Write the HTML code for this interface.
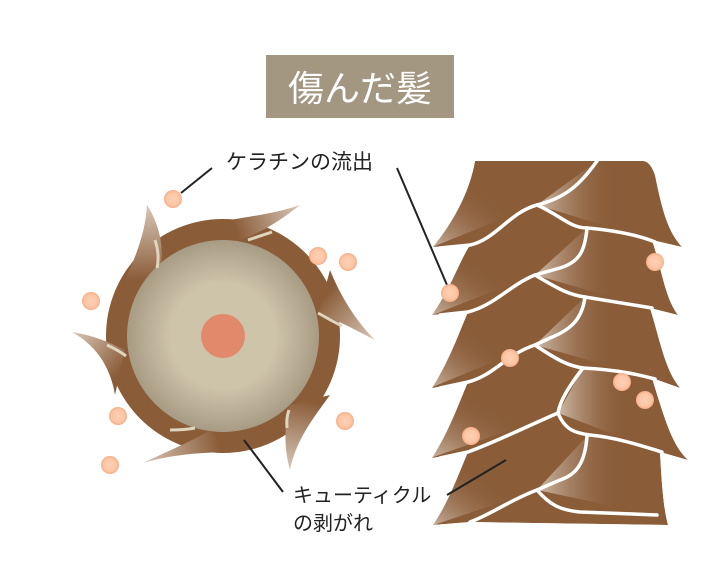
<!DOCTYPE html>
<html><head><meta charset="utf-8"><style>
html,body{margin:0;padding:0;background:#fff;}
svg{display:block;}
text{font-family:"Liberation Sans","Noto Sans CJK JP",sans-serif;}
</style></head><body>
<svg width="720" height="578" viewBox="0 0 720 578" xmlns="http://www.w3.org/2000/svg">
<defs>
<radialGradient id="core" cx="0.5" cy="0.5" r="0.5">
<stop offset="0" stop-color="#cdc3a9"/><stop offset="0.55" stop-color="#cec4aa"/><stop offset="1" stop-color="#a89b84"/>
</radialGradient>
<radialGradient id="dot" cx="0.5" cy="0.5" r="0.5">
<stop offset="0" stop-color="#fdd0b4"/><stop offset="0.7" stop-color="#fcc6a5"/><stop offset="1" stop-color="#f6ae88"/>
</radialGradient>
<linearGradient id="lt" x1="0" y1="1" x2="1" y2="0">
<stop offset="0" stop-color="#d7c6b6" stop-opacity="0.95"/><stop offset="0.6" stop-color="#8a5c38" stop-opacity="0"/>
</linearGradient>
<linearGradient id="rt" x1="0" y1="0" x2="1" y2="0">
<stop offset="0" stop-color="#d7c6b6" stop-opacity="0.9"/><stop offset="0.7" stop-color="#8a5c38" stop-opacity="0"/>
</linearGradient>
<linearGradient id="f1" gradientUnits="userSpaceOnUse" x1="147" y1="205" x2="150" y2="280"><stop offset="0" stop-color="#d8c7b8"/><stop offset="1" stop-color="#8a5c38"/></linearGradient>
<linearGradient id="f2" gradientUnits="userSpaceOnUse" x1="300" y1="205" x2="235" y2="228"><stop offset="0" stop-color="#d8c7b8"/><stop offset="1" stop-color="#8a5c38"/></linearGradient>
<linearGradient id="f3" gradientUnits="userSpaceOnUse" x1="375" y1="340" x2="325" y2="295"><stop offset="0" stop-color="#d8c7b8"/><stop offset="1" stop-color="#8a5c38"/></linearGradient>
<linearGradient id="f4" gradientUnits="userSpaceOnUse" x1="290" y1="470" x2="305" y2="400"><stop offset="0" stop-color="#d8c7b8"/><stop offset="1" stop-color="#8a5c38"/></linearGradient>
<linearGradient id="f5" gradientUnits="userSpaceOnUse" x1="143" y1="463" x2="220" y2="445"><stop offset="0" stop-color="#d8c7b8"/><stop offset="1" stop-color="#8a5c38"/></linearGradient>
<linearGradient id="f6" gradientUnits="userSpaceOnUse" x1="72" y1="332" x2="120" y2="372"><stop offset="0" stop-color="#d8c7b8"/><stop offset="1" stop-color="#8a5c38"/></linearGradient>
<clipPath id="body"><path id="bp" d="M475,161 L643,161 Q650,161 655,175 C662,210 668,232 682,247 L652,240 C662,270 665,298 678,315 L650,308 C660,340 665,370 680,388 L652,378 C665,420 672,445 688,460 L660,452 C662,490 664,510 668,525 L470,522 L433,525 C450,500 460,470 468,452 L432,458 C450,430 460,400 468,382 L432,388 C450,360 460,330 468,312 L432,315 C450,290 460,260 470,245 L433,247 C455,220 470,190 475,161 Z"/></clipPath>
</defs>

<rect x="266" y="55" width="188" height="63" fill="#a39781"/>
<text x="360" y="101" font-size="36" fill="#fff" text-anchor="middle">傷んだ髪</text>

<text x="226" y="169" font-size="21" fill="#222">ケラチンの流出</text>
<text x="293" y="502" font-size="20" fill="#222">キューティクル</text>
<text x="293" y="530" font-size="20" fill="#222">の剥がれ</text>

<circle cx="223" cy="336" r="117" fill="#8a5c38"/>
<path d="M147,205 C160,225 165,250 160,275 L115,300 C130,270 145,240 147,205Z" fill="url(#f1)"/>
<path d="M300,205 C275,225 255,235 240,240 L230,220 C260,215 280,212 300,205Z" fill="url(#f2)"/>
<path d="M375,340 C355,330 335,318 318,315 L330,270 C340,295 355,320 375,340Z" fill="url(#f3)"/>
<path d="M290,470 C283,445 285,420 290,405 L330,395 C312,420 296,440 290,470Z" fill="url(#f4)"/>
<path d="M143,463 C170,450 195,440 210,430 L235,452 C200,452 170,455 143,463Z" fill="url(#f5)"/>
<path d="M72,332 C95,345 110,365 115,395 L125,350 C105,340 90,335 72,332Z" fill="url(#f6)"/>
<circle cx="223" cy="336" r="96" fill="url(#core)"/>
<circle cx="223" cy="336" r="22" fill="#e2896b"/>
<g fill="none" stroke="#ddd6bd" stroke-width="3">
<path d="M155,240 Q160,255 157,268"/>
<path d="M248,240 Q260,236 272,232"/>
<path d="M318,313 Q330,320 342,326"/>
<path d="M289,410 Q286,418 287,428"/>
<path d="M170,430 Q185,430 195,428"/>
<path d="M107,345 Q118,350 126,356"/>
</g>

<g clip-path="url(#body)">
<use href="#bp" fill="#8a5c38"/>
<polygon points="425,250 475,160 537,205" fill="url(#lt)"/>
<polygon points="425,318 470,240 535,275" fill="url(#lt)"/>
<polygon points="425,390 470,310 535,345" fill="url(#lt)"/>
<polygon points="425,460 470,380 558,413" fill="url(#lt)"/>
<polygon points="425,528 470,450 537,490" fill="url(#lt)"/>
<polygon points="537,205 597,161 640,161 652,240" fill="url(#rt)"/>
<polygon points="535,275 587,228 650,240 650,308" fill="url(#rt)"/>
<polygon points="535,345 585,297 650,305 652,378" fill="url(#rt)"/>
<polygon points="558,413 583,368 650,378 660,452" fill="url(#rt)"/>
<polygon points="537,490 587,436 660,452 655,515" fill="url(#rt)"/>
</g>
<g fill="none" stroke="#fff" stroke-width="3.5" stroke-linecap="round">
<path d="M597,161 C580,185 565,198 537,205 C510,212 495,240 470,245 L440,248"/>
<path d="M537,205 C560,215 570,228 587,228 C610,230 635,234 655,242"/>
<path d="M587,228 C585,250 580,262 560,268 L535,275 C510,285 495,305 468,312 L440,315"/>
<path d="M535,275 C560,290 570,295 585,297 L652,308"/>
<path d="M585,297 C582,320 570,330 550,338 L535,345 C505,355 495,375 468,382 L440,388"/>
<path d="M535,345 C560,362 570,366 583,368 C620,370 640,375 655,379"/>
<path d="M583,368 C570,385 560,400 558,413 C530,425 500,440 468,452 L440,458"/>
<path d="M558,413 C565,430 575,433 590,435 C620,438 645,447 662,452"/>
<path d="M587,436 C585,465 575,475 560,480 L537,490 C510,500 490,515 470,522"/>
<path d="M537,490 C550,505 560,510 580,512 L657,515"/>
</g>

<g stroke="#222" stroke-width="2" fill="none">
<line x1="212" y1="168" x2="181" y2="193"/>
<line x1="397" y1="168" x2="447" y2="285"/>
<line x1="244" y1="440" x2="283" y2="492"/>
<line x1="447" y1="495" x2="506" y2="460"/>
</g>

<g fill="url(#dot)">
<circle cx="173" cy="199" r="9"/><circle cx="318" cy="256" r="9"/><circle cx="348" cy="262" r="9"/>
<circle cx="91" cy="301" r="9"/><circle cx="118" cy="416" r="9"/><circle cx="345" cy="421" r="9"/>
<circle cx="110" cy="465" r="9"/>
<circle cx="450" cy="293" r="9"/><circle cx="655" cy="262" r="9"/><circle cx="510" cy="358" r="9"/>
<circle cx="622" cy="382" r="9"/><circle cx="645" cy="400" r="9"/><circle cx="471" cy="436" r="9"/>
</g>
</svg>
</body></html>
